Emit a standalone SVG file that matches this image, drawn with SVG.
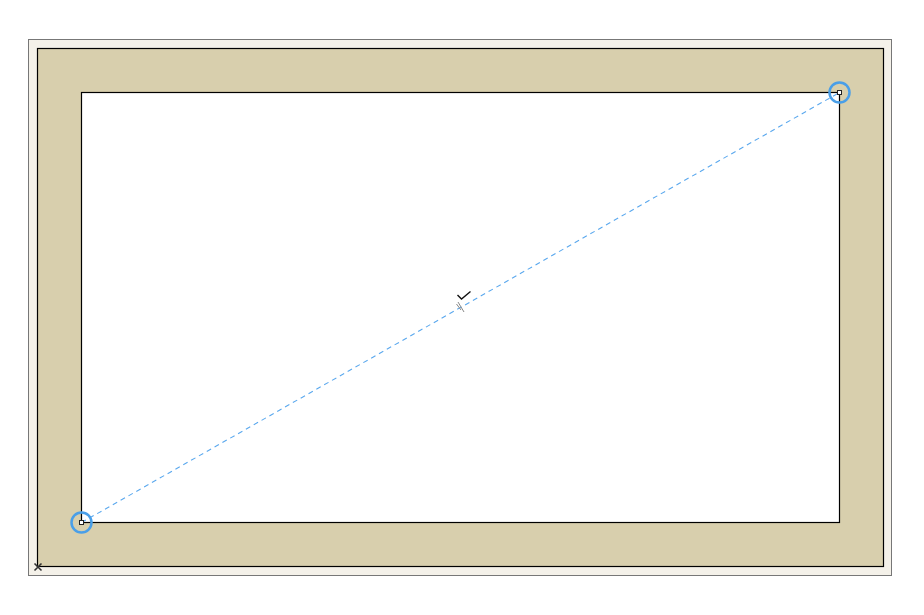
<svg xmlns="http://www.w3.org/2000/svg" width="924" height="615" viewBox="0 0 924 615">
<style>
.h{fill:none;stroke:#4a9fe8;stroke-width:2.5}
.hs{fill:#fff;stroke:#222;stroke-width:1}
</style>
<rect width="924" height="615" fill="#fff"/>
<g id="frame">
<rect x="28.5" y="39.5" width="863" height="536" fill="#f4f1e9" stroke="#777" stroke-width="1"/>
<rect x="37.5" y="48.5" width="846" height="518" fill="#d8cfad" stroke="#000" stroke-width="1.2"/>
<rect x="81.5" y="92.5" width="758" height="430" fill="#fff" stroke="#000" stroke-width="1.2"/>
<path d="M34.5,563.5 L41.5,570.5 M41.5,563.5 L34.5,570.5" stroke="#333" stroke-width="1.6"/>
</g>
<g id="connectors">
<line x1="81.5" y1="522.5" x2="839.5" y2="92.5" stroke="#5aa8ee" stroke-width="1.1" stroke-dasharray="5,4"/>
</g>
<g id="handle-start">
<circle cx="81.5" cy="522.5" r="10" class="h"/>
<rect x="79.5" y="520.5" width="4" height="4" class="hs"/>
</g>
<g id="handle-end">
<circle cx="839.5" cy="92.5" r="10" class="h"/>
<rect x="837.5" y="90.5" width="4" height="4" class="hs"/>
</g>
<g id="midpoint">
<polyline points="457.5,295 461.5,299 470.5,291.5" fill="none" stroke="#111" stroke-width="1.4"/>
<line x1="458" y1="302" x2="464" y2="312" stroke="#888" stroke-width="1"/>
<line x1="456.5" y1="304" x2="461" y2="310" stroke="#888" stroke-width="1"/>
</g>
</svg>
